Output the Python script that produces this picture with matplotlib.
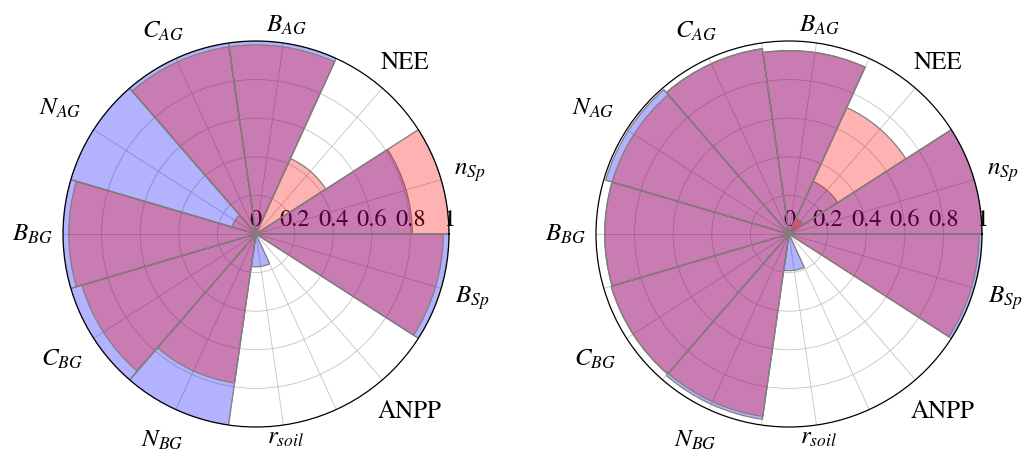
import numpy as np
import matplotlib.pyplot as plt

plt.rcParams['font.family'] = ['STIXGeneral', 'DejaVu Sans']
plt.rcParams['mathtext.fontset'] = 'stix'

# Categories, counter-clockwise starting at 0 degrees
categories = [r'$n_{Sp}$', 'NEE', r'$B_{AG}$', r'$C_{AG}$', r'$N_{AG}$', r'$B_{BG}$',
              r'$C_{BG}$', r'$N_{BG}$', r'$r_{soil}$', 'ANPP', r'$B_{Sp}$']

left_blue = [0.81, 0.0, 1.0, 1.0, 1.0, 1.0, 1.0, 1.0, 0.17, 0.0, 1.0]
left_red = [1.0, 0.43, 0.98, 0.98, 0.13, 0.97, 0.94, 0.78, 0.0, 0.0, 0.97]

right_blue = [1.0, 0.30, 0.95, 0.97, 0.99, 0.955, 0.96, 0.97, 0.19, 0.0, 1.0]
right_red = [1.0, 0.72, 0.95, 0.97, 0.955, 0.955, 0.96, 0.955, 0.0, 0.0, 0.985]
right_red_inner = [0.0, 0.09, 0.0, 0.0, 0.0, 0.0, 0.0, 0.0, 0.0, 0.0, 0.0]

r_ticks = [0, 0.2, 0.4, 0.6, 0.8, 1]
r_tick_labels = ['0', '0.2', '0.4', '0.6', '0.8', '1']

BLUE = (0, 0, 1, 0.3)
RED = (1, 0, 0, 0.3)

# distance (px) from the rim to the centre of each category label
label_pad = [30, 35, 18, 31, 40, 31, 38, 33, 12, 41, 32]


def draw_panel(ax, series):
    n = len(categories)
    width = 2 * np.pi / n
    centers = (np.arange(n) + 0.5) * width
    edges = np.arange(n) * width

    ax.set_axisbelow(True)
    for values, color in series:
        ax.bar(centers, values, width=width, bottom=0, facecolor=color,
               edgecolor='gray', linewidth=0.9, zorder=2)
    ax.set_ylim(0, 1)

    ax.set_xticks(centers)
    ax.set_xticklabels([])
    ax.set_xticks(edges, minor=True)
    ax.set_yticks(r_ticks[1:-1])
    ax.set_yticklabels([])
    ax.grid(True, color='#c4c4c4', linewidth=0.6)
    ax.xaxis.grid(True, which='minor', color='#c4c4c4', linewidth=0.6)
    ax.tick_params(axis='x', which='both', direction='out', length=6,
                   width=0.7, color='gray', pad=0)
    ax.spines['polar'].set_linewidth(0.9)

    # radial scale written along the 0 degree line, underneath the bars
    for r, lbl in zip(r_ticks, r_tick_labels):
        ax.annotate(lbl, xy=(0, r), xytext=(0, 3), textcoords='offset points',
                    ha='center', va='bottom', fontsize=17.5, zorder=1)

    for theta, lbl, pad in zip(centers, categories, label_pad):
        off = pad * 72 / 100
        ax.annotate(lbl, xy=(theta, 1), xytext=(off * np.cos(theta), off * np.sin(theta)),
                    textcoords='offset points', ha='center', va='center', fontsize=18,
                    annotation_clip=False)


fig = plt.figure(figsize=(10.24, 4.52), dpi=100)
ax_left = fig.add_axes([63 / 1024, 24 / 452, 386 / 1024, 386 / 452], projection='polar')
ax_right = fig.add_axes([596 / 1024, 24 / 452, 386 / 1024, 386 / 452], projection='polar')

draw_panel(ax_left, [(left_blue, BLUE), (left_red, RED)])
draw_panel(ax_right, [(right_blue, BLUE), (right_red, RED), (right_red_inner, RED)])

fig.savefig('out.png', dpi=100)
